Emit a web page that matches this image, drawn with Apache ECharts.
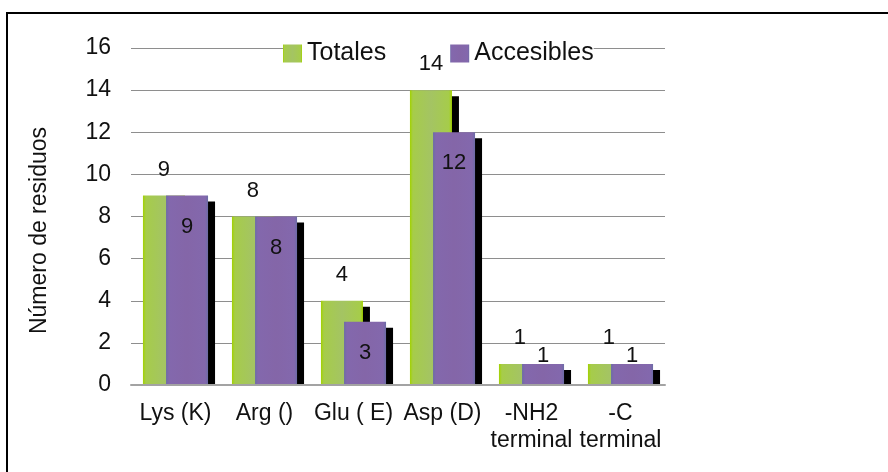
<!DOCTYPE html>
<html>
<head>
<meta charset="utf-8">
<script src="https://cdn.jsdelivr.net/npm/echarts@6/dist/echarts.min.js"></script>
<style>
  html, body { margin: 0; padding: 0; background: #fff; }
  #wrap { position: relative; width: 888px; height: 472px; overflow: hidden; }
  #frame { position: absolute; left: 6px; top: 12px; width: 900px; height: 480px; border: 2px solid #000; box-sizing: border-box; }
  #chart { position: absolute; left: 0; top: 0; width: 888px; height: 472px; }
</style>
</head>
<body>
<div id="wrap">
  <div id="frame"></div>
  <div id="chart"></div>
</div>
<script>
const categories = ['Lys (K)', 'Arg ()', 'Glu ( E)', 'Asp (D)', '-NH2\nterminal', '-C\nterminal'];
const totales = [9, 8, 4, 14, 1, 1];
const accesibles = [9, 8, 3, 12, 1, 1];
const seriesNames = ['Totales', 'Accesibles'];
const yTicks = { min: 0, max: 16, interval: 2 };

const FONT = "'Liberation Sans', Arial, sans-serif";

const greenFill = new echarts.graphic.LinearGradient(0, 0, 1, 0, [
  { offset: 0, color: '#a2d200' },
  { offset: 0.07, color: '#a6cc4a' },
  { offset: 0.5, color: '#a4c463' },
  { offset: 0.93, color: '#a6cc4a' },
  { offset: 1, color: '#a2d200' }
]);
const purpleFill = new echarts.graphic.LinearGradient(0, 0, 1, 0, [
  { offset: 0, color: '#6c6ca6' },
  { offset: 0.07, color: '#8368ad' },
  { offset: 0.5, color: '#8466a8' },
  { offset: 0.93, color: '#8368ad' },
  { offset: 1, color: '#6c6ca6' }
]);

const shadow = { shadowColor: '#000', shadowBlur: 0, shadowOffsetX: 7, shadowOffsetY: 6 };

const chart = echarts.init(document.getElementById('chart'), null, { renderer: 'canvas' });
chart.setOption({
  backgroundColor: 'transparent',
  animation: false,
  textStyle: { fontFamily: FONT },
  legend: {
    data: seriesNames,
    left: 283,
    top: 38,
    z: 1,
    padding: [3, 0, 3, 0],
    backgroundColor: '#fff',
    itemWidth: 19,
    itemHeight: 18,
    itemGap: 64,
    icon: 'rect',
    itemStyle: { shadowColor: 'transparent', shadowOffsetX: 0, shadowOffsetY: 0 },
    textStyle: { fontFamily: FONT, fontSize: 25, color: '#111', padding: [6, 0, 0, 0] }
  },
  grid: { left: 131, right: 223, top: 48, bottom: 87, containLabel: false },
  xAxis: {
    type: 'category',
    data: categories,
    z: 3,
    axisLine: { show: true, lineStyle: { color: '#a3a3a3', width: 2 } },
    axisTick: { show: false },
    axisLabel: {
      interval: 0,
      margin: 1,
      padding: [14, 0, 0, 0],
      width: 89,
      backgroundColor: '#fff',
      fontFamily: FONT,
      fontSize: 23,
      lineHeight: 27,
      color: '#111'
    }
  },
  yAxis: {
    type: 'value',
    min: yTicks.min,
    max: yTicks.max,
    interval: yTicks.interval,
    name: 'Número de residuos',
    nameLocation: 'middle',
    nameGap: 80,
    nameTextStyle: { fontFamily: FONT, fontSize: 23, color: '#111', padding: [0, 28, 0, 0] },
    axisLine: { show: false },
    axisTick: { show: false },
    axisLabel: { margin: 20, fontFamily: FONT, fontSize: 23, color: '#111' },
    splitLine: { show: true, lineStyle: { color: '#8e8e8e', width: 1 } }
  },
  series: [
    {
      name: seriesNames[0],
      type: 'bar',
      data: totales,
      barWidth: 42,
      barGap: '-45%',
      itemStyle: Object.assign({ color: greenFill }, shadow),
      label: {
        show: true,
        position: 'top',
        distance: 15,
        fontFamily: FONT,
        fontSize: 22,
        color: '#111'
      }
    },
    {
      name: seriesNames[1],
      type: 'bar',
      data: accesibles.map(v => v < 2
        ? { value: v, label: { position: 'top', distance: -3 } }
        : { value: v }),
      barWidth: 42,
      barGap: '-45%',
      itemStyle: Object.assign({ color: purpleFill }, shadow),
      label: {
        show: true,
        position: 'insideTop',
        distance: 20,
        fontFamily: FONT,
        fontSize: 22,
        color: '#111'
      }
    }
  ]
});
</script>
</body>
</html>
